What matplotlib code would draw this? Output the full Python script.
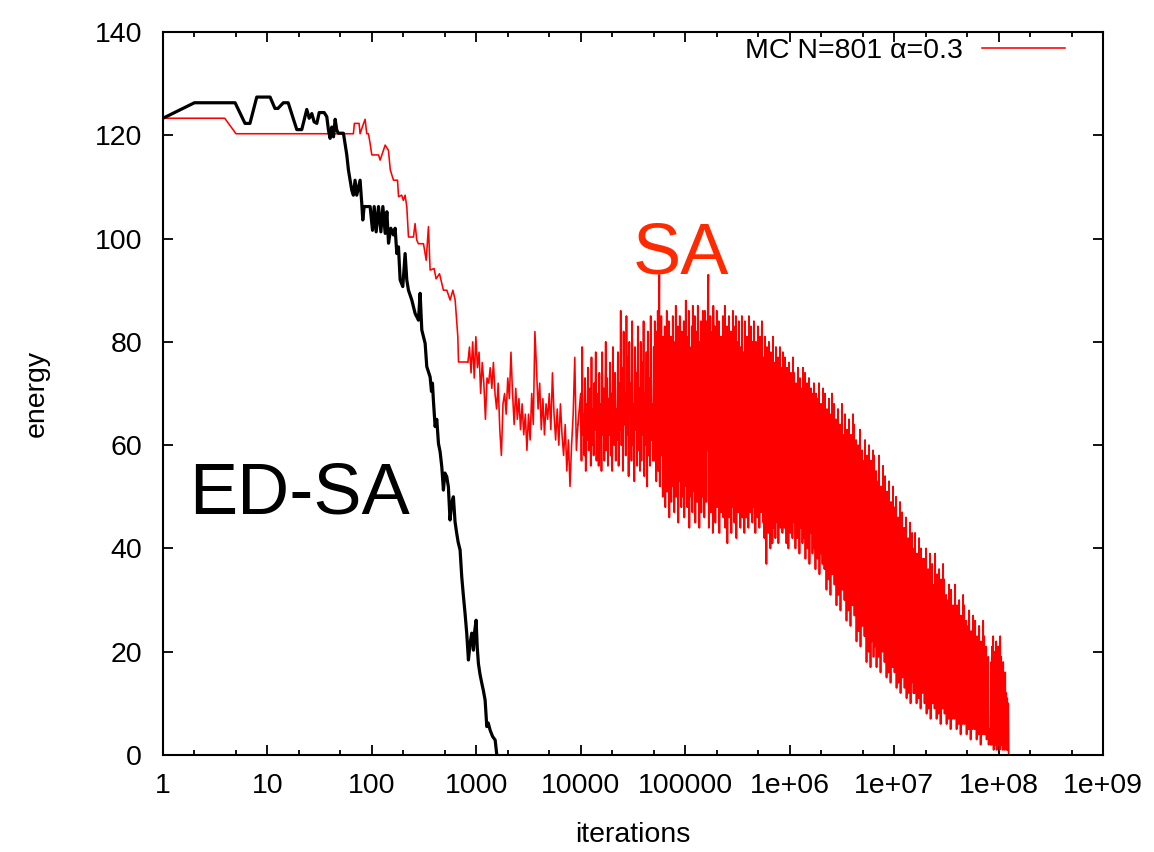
import matplotlib
matplotlib.use("Agg")
import matplotlib.pyplot as plt
import numpy as np
from matplotlib.ticker import FixedLocator, LogLocator, NullFormatter

plt.rcParams['font.family'] = ['Liberation Sans', 'DejaVu Sans']

# ED-SA run (black)
edsa_iter = [1, 2, 4.9, 6.1, 6.8, 7.9, 10.6, 11.8, 12.6, 14.2,
             15.8, 19.1, 21.3, 23.8, 25.1, 26.6, 28.0, 29.7, 31.3, 34.9,
             37.0, 38.4, 39.8, 41.3, 42.9, 44.5, 46.1, 47.8, 53.4, 57.5,
             59.6, 64.1, 66.5, 69.0, 71.6, 77.1, 80.0, 81.8, 84.3, 96.2,
             101.4, 105.2, 109.9, 115.7, 121.9, 127.4, 134.1, 139.1, 144.3, 151.8,
             160.9, 166.9, 173.2, 179.7, 186.4, 197.6, 208.0, 215.8, 223.9, 241.0,
             259.4, 279.2, 289.6, 300.5, 323.5, 335.4, 361.0, 372, 380, 388,
             403, 418, 434, 450, 467, 484, 500, 521, 540, 560,
             580, 603, 625, 649, 670, 699, 725, 752, 780, 809,
             840, 870, 904, 938, 965, 995, 1020, 1047, 1085, 1128,
             1170, 1214, 1259, 1300, 1356, 1430, 1514, 1571]
edsa_energy = [123.3, 126.3, 126.3, 122.3, 122.3, 127.4, 127.4, 125.2, 125.2, 126.3,
               126.3, 121.1, 121.1, 125.0, 123.3, 124.2, 122.6, 122.3, 124.4, 124.4,
               123.6, 121.0, 119.4, 121.6, 119.7, 123.1, 121.0, 120.4, 120.4, 116.2,
               113.3, 109.4, 108.4, 111.3, 108.4, 111.3, 106.8, 103.6, 106.2, 106.2,
               101.6, 106.2, 101.3, 106.2, 101.3, 106.2, 101.0, 105.2, 99.1, 102.0,
               100.7, 102.0, 97.1, 98.4, 92.0, 90.7, 97.1, 92.0, 90.0, 88.1,
               85.5, 84.2, 89.4, 82.3, 79.7, 75.2, 73.2, 70.4, 72.0, 68.7,
               63.6, 65.0, 60.3, 58.7, 55.8, 51.3, 54.6, 53.9, 51.9, 45.5,
               48.7, 50.0, 45.2, 42.9, 41.2, 39.7, 34.5, 30.8, 27.4, 23.6,
               18.4, 21.5, 23.6, 20.3, 24.0, 26.1, 20.9, 17.7, 15.6, 13.9,
               12.4, 10.6, 5.5, 6.2, 4.8, 3.6, 2.9, 0.0]

# SA run (red): early stepwise part
sa_iter = [1, 3.9, 5.0, 66.5, 68, 75.4, 77.1, 80, 86.1, 89.3,
           92.7, 96.2, 99.8, 115.7, 120, 134, 144, 150, 161, 176,
           180, 193, 200, 208, 216, 224, 250, 259, 269, 279,
           312, 331, 348, 361, 394, 412, 444, 484, 522, 561,
           596, 627, 665, 675, 813]
sa_energy = [123.3, 123.3, 120.3, 120.3, 122.3, 122.3, 120.3, 121.3, 123.1, 120.3,
             120.3, 118.4, 116.2, 116.2, 115.2, 118.1, 117.1, 113.3, 111.3, 111.3,
             108.1, 108.4, 107.4, 108.4, 106.1, 100.3, 100.3, 102.9, 99.7, 99.0,
             99.0, 95.8, 102.3, 93.9, 94.2, 92.2, 93.2, 90.0, 90.0, 88.1,
             90.0, 88.1, 81.0, 76.1, 76.1]

# SA noisy part, 830 .. 9.4e3 iterations (log-spaced samples)
sa_mid1 = [76, 79, 74, 80, 73, 81, 75, 78, 70, 76,
           72, 65, 73, 72, 75, 71, 76, 70, 67, 72,
           63, 58, 68, 70, 66, 73, 69, 78, 70, 64,
           71, 65, 69, 63, 68, 62, 66, 59, 66, 61,
           70, 64, 82, 75, 67, 72, 63, 69, 62, 68,
           65, 70, 63, 74, 66, 61, 67, 60, 68, 62,
           58, 64, 55, 61, 52, 60, 66, 77, 59, 64]

# SA noisy part, 1e4 .. 4.9e4 iterations (denser)
sa_mid2 = [70, 57, 79, 62, 66, 58, 73, 55, 68, 61, 75, 59, 64, 71, 56, 77, 60, 67, 58, 72,
           63, 78, 57, 65, 70, 56, 74, 61,
           68, 55, 78, 62, 71, 57, 66, 80, 59, 73, 56, 69, 62, 76, 58, 70, 55, 79, 64, 60,
           74, 57, 67, 61, 78, 56, 72, 63,
           86, 60, 75, 55, 82, 64, 70, 58, 85, 62, 77, 54, 80, 66, 72, 57, 84, 60, 68, 53,
           79, 63, 74, 56, 83, 59, 71, 55,
           80, 57, 76, 62, 84, 54, 70, 60, 78, 52, 82, 58, 73, 56, 85, 61, 68, 57]

# SA dense tail, 5e4 .. 1.25e8 iterations (log-spaced samples)
sa_tail = [
    79, 57, 84, 62, 75, 53, 82, 60, 86, 55, 78, 93, 52, 80, 63, 85, 58, 74, 50, 81,
    76, 54, 83, 48, 79, 60, 86, 51, 72, 57, 84, 46, 77, 55, 81, 49, 70, 58, 85, 52,
    80, 47, 74, 56, 87, 50, 78, 61, 83, 45, 76, 53, 85, 58, 71, 48, 82, 55, 79, 50,
    84, 46, 77, 59, 88, 52, 73, 48, 81, 55, 86, 44, 79, 62, 75, 50, 83, 47, 87, 56,
    72, 51, 85, 45, 78, 58, 82, 49, 87, 54, 74, 44, 80, 60, 84, 47, 76, 53, 86, 50,
    81, 46, 86, 55, 77, 49, 84, 59, 88, 93, 44, 79, 52, 85, 47, 73, 57, 82, 43, 87,
    75, 50, 83, 45, 79, 56, 86, 48, 72, 53, 84, 43, 77, 58, 81, 47, 70, 51, 85, 46,
    80, 54, 87, 44, 74, 49, 83, 41, 78, 57, 85, 46, 72, 52, 82, 43, 76, 55, 86, 48,
    83, 45, 77, 53, 85, 42, 71, 50, 80, 47, 84, 56, 74, 44, 79, 51, 85, 46, 72, 49,
    78, 43, 84, 52, 75, 46, 81, 58, 70, 44, 85, 50, 77, 47, 83, 55, 73, 45, 80, 49,
    84, 48, 76, 43, 80, 53, 72, 46, 83, 50, 77, 44, 81, 57, 70, 47, 84, 51, 74, 45,
    77, 42, 81, 49, 73, 37, 79, 45, 68, 43, 80, 51, 74, 40, 78, 46, 70, 41, 81, 44,
    76, 48, 71, 42, 79, 51, 67, 45, 77, 41, 73, 49, 79, 44, 69, 52, 75, 43, 78, 47,
    72, 44, 77, 50, 68, 41, 75, 47, 65, 40, 76, 48, 70, 43, 74, 51, 66, 42, 77, 46,
    74, 45, 68, 40, 72, 49, 64, 42, 75, 47, 69, 39, 73, 44, 63, 48, 71, 41, 75, 46,
    68, 42, 74, 38, 65, 47, 72, 40, 62, 45, 73, 37, 67, 43, 71, 49, 64, 39, 70, 44,
    72, 40, 65, 36, 70, 45, 61, 38, 69, 42, 72, 35, 63, 44, 68, 39, 60, 37, 71, 41,
    65, 36, 70, 41, 59, 32, 67, 38, 62, 34, 69, 43, 57, 31, 66, 37, 70, 35, 61, 39,
    68, 33, 61, 37, 65, 29, 57, 35, 67, 31, 60, 39, 64, 28, 55, 34, 68, 32, 62, 36,
    59, 30, 66, 35, 56, 26, 63, 32, 54, 28, 65, 37, 58, 25, 62, 31, 52, 29, 66, 33,
    64, 27, 56, 32, 61, 22, 52, 29, 60, 24, 55, 34, 63, 21, 50, 28, 59, 25, 57, 30,
    56, 23, 61, 28, 50, 18, 58, 25, 47, 20, 60, 30, 53, 17, 57, 22, 46, 26, 59, 19,
    58, 21, 50, 26, 55, 17, 45, 23, 53, 19, 58, 28, 48, 16, 52, 22, 44, 20, 56, 24,
    50, 18, 54, 23, 44, 15, 51, 20, 41, 16, 53, 25, 46, 14, 49, 19, 42, 17, 52, 21,
    48, 16, 42, 21, 50, 13, 39, 18, 46, 14, 43, 22, 49, 12, 38, 17, 47, 15, 41, 19,
    44, 13, 38, 18, 46, 11, 35, 15, 42, 12, 39, 19, 45, 10, 34, 14, 43, 16, 37, 12,
    40, 12, 43, 16, 34, 10, 39, 14, 32, 11, 42, 17, 36, 9, 40, 13, 31, 12, 38, 15,
    38, 10, 31, 14, 40, 8, 29, 12, 36, 9, 33, 15, 39, 7, 28, 11, 37, 10, 30, 13,
    33, 9, 39, 12, 28, 7, 35, 11, 26, 8, 36, 13, 30, 6, 34, 10, 25, 9, 37, 11,
    34, 8, 27, 11, 31, 6, 24, 9, 30, 7, 33, 12, 26, 5, 32, 8, 23, 7, 29, 10,
    28, 7, 33, 10, 22, 5, 29, 8, 21, 6, 30, 11, 24, 4, 27, 7, 20, 6, 31, 9,
    29, 6, 22, 9, 26, 4, 19, 7, 25, 5, 28, 10, 21, 3, 24, 6, 18, 5, 27, 8,
    24, 5, 26, 8, 18, 3, 23, 6, 16, 4, 25, 7, 20, 2, 22, 5, 15, 4, 26, 6,
    23, 4, 17, 7, 21, 3, 15, 5, 19, 2, 5, 3, 4, 2,
    18, 2, 21, 4, 23, 1, 17, 3, 20, 2, 22, 1, 16, 3, 21, 2, 19, 1, 23, 2,
    19, 2, 17, 1, 18, 3, 14, 1, 16, 2, 12, 1, 11, 1, 10, 0]

xtick_vals = [1, 10, 100, 1000, 1e4, 1e5, 1e6, 1e7, 1e8, 1e9]
xtick_labels = ["1", "10", "100", "1000", "10000", "100000",
                "1e+06", "1e+07", "1e+08", "1e+09"]
ytick_vals = [0, 20, 40, 60, 80, 100, 120, 140]
legend_label = "MC N=801 \u03b1=0.3"

fs = 20.5
W, H = 1154, 852

fig = plt.figure(figsize=(W / 100, H / 100), dpi=100)
ax = fig.add_axes([163 / W, 97 / H, 940 / W, 723 / H])

mid1_x = np.geomspace(830, 9.4e3, len(sa_mid1))
mid2_x = np.geomspace(1e4, 4.9e4, len(sa_mid2))
tail_x = np.geomspace(5e4, 1.25e8, len(sa_tail))

head_x = np.concatenate([sa_iter, mid1_x])
head_y = np.concatenate([sa_energy, sa_mid1])
red_line, = ax.plot(head_x, head_y, color='#ff0000', lw=1.15, label=legend_label)
# later part: many samples per pixel in the original, reads as a solid band
ax.plot(np.concatenate([mid1_x[-1:], mid2_x, tail_x]),
        np.concatenate([sa_mid1[-1:], sa_mid2, sa_tail]),
        color='#ff0000', lw=1.3)
ax.plot(edsa_iter, edsa_energy, color='black', lw=2.3)

ax.set_xscale('log')
ax.set_xlim(1, 1e9)
ax.set_ylim(0, 140)
ax.xaxis.set_major_locator(FixedLocator(xtick_vals))
ax.set_xticklabels(xtick_labels)
ax.xaxis.set_minor_locator(LogLocator(base=10, subs=(2, 5), numticks=30))
ax.xaxis.set_minor_formatter(NullFormatter())
ax.set_yticks(ytick_vals)

ax.tick_params(which='both', direction='in', top=True, right=True,
               labelsize=fs, width=1.3)
ax.tick_params(which='major', length=7)
ax.tick_params(which='minor', length=3.5)
ax.tick_params(axis='x', pad=13)
ax.tick_params(axis='y', pad=15)
for s in ax.spines.values():
    s.set_linewidth(1.5)

fig.text(633 / W, 1 - 842 / H, "iterations", ha='center', va='baseline', fontsize=fs)
fig.text(37 / W, 1 - 393 / H, "energy", ha='center', va='center',
         rotation=90, fontsize=fs)

fig.text(633 / W, 1 - 273 / H, "SA", color='#ff2a00', fontsize=52,
         ha='left', va='baseline')
fig.text(189 / W, 1 - 513 / H, "ED-SA", color='black', fontsize=52,
         ha='left', va='baseline')

ax.legend(handles=[red_line], loc='upper right',
          bbox_to_anchor=(1065 / W, 1 - 38 / H), bbox_transform=fig.transFigure,
          frameon=False, markerfirst=False, handlelength=2.9, handletextpad=0.7,
          fontsize=fs, borderaxespad=0, borderpad=0)

fig.savefig("out.png", dpi=100)
